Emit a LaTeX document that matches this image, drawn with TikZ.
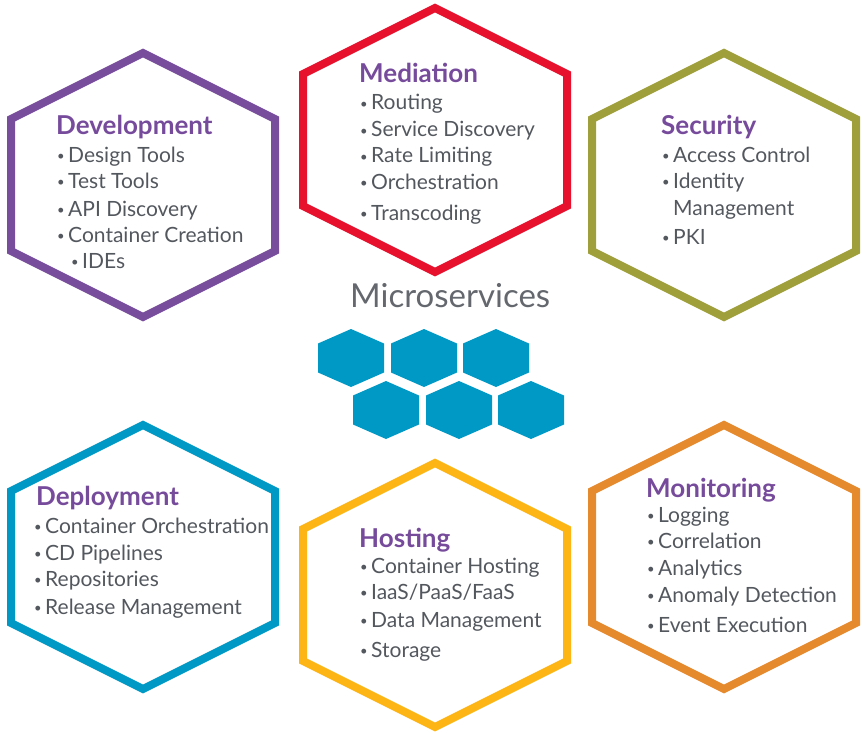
\documentclass[tikz,border=0pt]{standalone}
\usepackage{fontspec}
\setmainfont{Lato}
\definecolor{headpurple}{HTML}{774B9C}
\definecolor{itemgray}{HTML}{53575E}
\definecolor{devpurple}{HTML}{784D9B}
\definecolor{medred}{HTML}{E8112D}
\definecolor{secolive}{HTML}{9FA03B}
\definecolor{depblue}{HTML}{0099C6}
\definecolor{hostgold}{HTML}{FDB515}
\definecolor{monorange}{HTML}{E68A2E}
\newcommand{\bul}{\makebox[12pt][l]{\hspace{1pt}\raisebox{1.5pt}{\fontsize{13}{13}\selectfont\textbullet}}}
\tikzset{
    hexline/.style={line width=8pt, line join=miter},
    heading/.style={anchor=base west, inner sep=0pt, text=headpurple,
        font=\fontsize{26}{26}\selectfont\bfseries},
    item/.style={anchor=base west, inner sep=0pt, text=itemgray,
        font=\fontsize{21}{21}\selectfont},
}
\begin{document}
\begin{tikzpicture}[x=1pt, y=-1pt]
        \useasboundingbox (0,0) rectangle (862,733);

        % Hexagonos grandes
        \foreach \cx/\cy/\col in {
            143/185/devpurple,
            435/140/medred,
            724/185/secolive,
            143/557/depblue,
            435/595/hostgold,
            724/557/monorange} {
            \draw[hexline, draw=\col] (\cx,\cy-132) -- (\cx+132,\cy-66) -- (\cx+132,\cy+66)
                -- (\cx,\cy+132) -- (\cx-132,\cy+66) -- (\cx-132,\cy-66) -- cycle;
        }

        % Development
        \node[heading] (dev-title) at (56,135) {Development};
        \foreach \y/\val [count=\i] in {
            162/Design Tools,
            188/Test Tools,
            216/API Discovery,
            242/Container Creation} {
            \node[item] (dev-\i) at (56,\y) {\bul\val};
        }
        \node[item] (dev-ide) at (70,268) {\bul IDEs};

        % Mediation
        \node[heading] (med-title) at (359,83) {Mediation};
        \foreach \y/\val [count=\i] in {
            110/Routing,
            137/Service Discovery,
            163/Rate Limiting,
            189/Orchestration,
            220/Transcoding} {
            \node[item] (med-\i) at (359,\y) {\bul\val};
        }

        % Security
        \node[heading] (sec-title) at (661,135) {Security};
        \node[item] (sec-1) at (661,162) {\bul Access Control};
        \node[item] (sec-2) at (661,188) {\bul Identity};
        \node[item] (sec-2b) at (661,215) {\hspace{12pt}Management};
        \node[item] (sec-3) at (661,244) {\bul PKI};

        % Microservices
        \node[item, text=itemgray!90, font=\fontsize{33}{33}\selectfont] (ms-title) at (350,307) {Microservices};
        \foreach \cx/\cy in {351/358, 424/358, 496/358, 386/410, 459/410, 531/410} {
            \fill[depblue] (\cx,\cy-29) -- (\cx+33,\cy-14.5) -- (\cx+33,\cy+14.5)
                -- (\cx,\cy+29) -- (\cx-33,\cy+14.5) -- (\cx-33,\cy-14.5) -- cycle;
        }

        % Deployment
        \node[heading] (dep-title) at (36,505) {Deployment};
        \foreach \y/\val [count=\i] in {
            533/Container Orchestration,
            560/CD Pipelines,
            586/Repositories,
            614/Release Management} {
            \node[item] (dep-\i) at (33,\y) {\bul\val};
        }

        % Hosting
        \node[heading] (host-title) at (359,547) {Hosting};
        \foreach \y/\val [count=\i] in {
            573/Container Hosting,
            599/{IaaS/PaaS/FaaS},
            627/Data Management,
            657/Storage} {
            \node[item] (host-\i) at (359,\y) {\bul\val};
        }

        % Monitoring
        \node[heading] (mon-title) at (646,497) {Monitoring};
        \foreach \y/\val [count=\i] in {
            522/Logging,
            548/Correlation,
            575/Analytics,
            602/Anomaly Detection,
            632/Event Execution} {
            \node[item] (mon-\i) at (646,\y) {\bul\val};
        }
    \end{tikzpicture}
\end{document}
